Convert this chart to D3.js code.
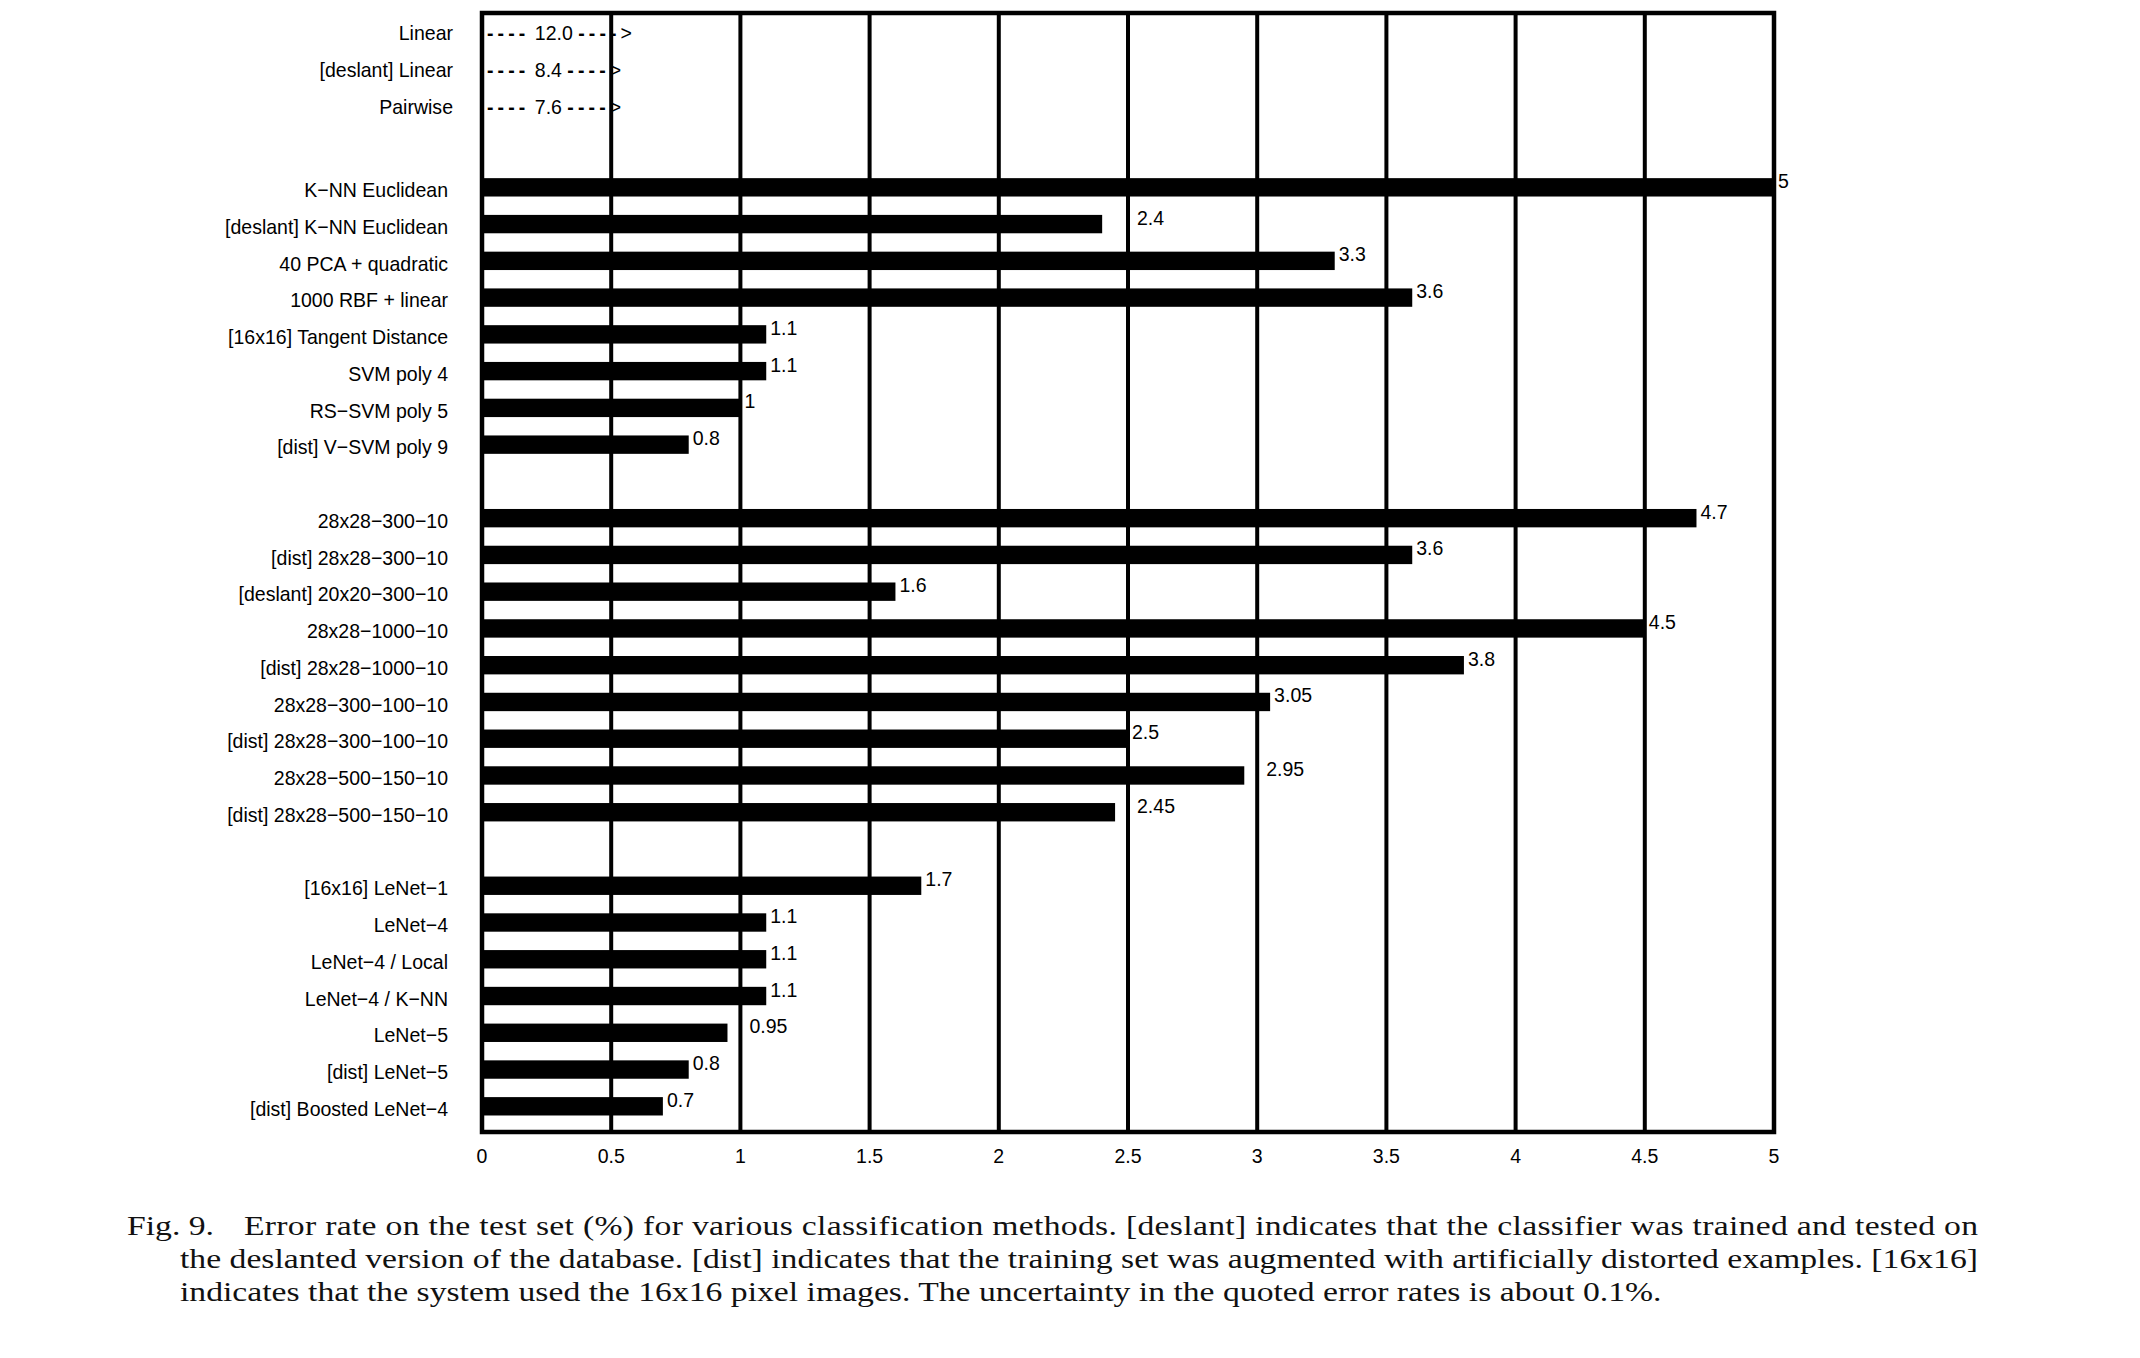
<!DOCTYPE html>
<html>
<head>
<meta charset="utf-8">
<script src="https://cdn.jsdelivr.net/npm/d3@7"></script>
<style>
  html, body { margin: 0; padding: 0; background: #fff; }
  svg { display: block; }
</style>
</head>
<body>
<script>
// ---------------- data ----------------
const offScaleLabels = ["Linear", "[deslant] Linear", "Pairwise"];
const offScaleValues = ["12.0", "8.4", "7.6"];

const group1Labels = ["K−NN Euclidean", "[deslant] K−NN Euclidean", "40 PCA + quadratic", "1000 RBF + linear",
  "[16x16] Tangent Distance", "SVM poly 4", "RS−SVM poly 5", "[dist] V−SVM poly 9"];
const group1Values = [5, 2.4, 3.3, 3.6, 1.1, 1.1, 1, 0.8];

const group2Labels = ["28x28−300−10", "[dist] 28x28−300−10", "[deslant] 20x20−300−10", "28x28−1000−10",
  "[dist] 28x28−1000−10", "28x28−300−100−10", "[dist] 28x28−300−100−10", "28x28−500−150−10",
  "[dist] 28x28−500−150−10"];
const group2Values = [4.7, 3.6, 1.6, 4.5, 3.8, 3.05, 2.5, 2.95, 2.45];

const group3Labels = ["[16x16] LeNet−1", "LeNet−4", "LeNet−4 / Local", "LeNet−4 / K−NN", "LeNet−5",
  "[dist] LeNet−5", "[dist] Boosted LeNet−4"];
const group3Values = [1.7, 1.1, 1.1, 1.1, 0.95, 0.8, 0.7];

const xTicks = [0, 0.5, 1, 1.5, 2, 2.5, 3, 3.5, 4, 4.5, 5];
const xTickLabels = ["0", "0.5", "1", "1.5", "2", "2.5", "3", "3.5", "4", "4.5", "5"];

const captionLines = [
  "Error rate on the test set (%) for various classification methods. [deslant] indicates that the classifier was trained and tested on",
  "the deslanted version of the database. [dist] indicates that the training set was augmented with artificially distorted examples. [16x16]",
  "indicates that the system used the 16x16 pixel images. The uncertainty in the quoted error rates is about 0.1%."
];
const captionLead = "Fig. 9.";

// ---------------- layout ----------------
const W = 2140, H = 1358;
const plot = { left: 482, right: 1774, top: 13, bottom: 1132 };
const SX = 0.93;      // horizontal condensing of the sans labels
const FS = 21;

const bars = [];
group1Labels.forEach((l, i) => bars.push({ key: "g1_" + i, label: l, value: group1Values[i] }));
group2Labels.forEach((l, i) => bars.push({ key: "g2_" + i, label: l, value: group2Values[i] }));
group3Labels.forEach((l, i) => bars.push({ key: "g3_" + i, label: l, value: group3Values[i] }));

const rowKeys = [
  ...offScaleLabels.map((l, i) => "o_" + i), "blank0",
  ...group1Labels.map((l, i) => "g1_" + i), "blank1",
  ...group2Labels.map((l, i) => "g2_" + i), "blank2",
  ...group3Labels.map((l, i) => "g3_" + i)
];

const x = d3.scaleLinear().domain([0, 5]).range([plot.left, plot.right]);
const y = d3.scalePoint().domain(rowKeys).range([40.3, 1106.3]);
const barH = y.step() * 0.5;

const svg = d3.select("body").append("svg")
  .attr("width", W).attr("height", H)
  .attr("viewBox", `0 0 ${W} ${H}`);
svg.append("rect").attr("width", W).attr("height", H).attr("fill", "#fff");

const sans = "'Liberation Sans', Arial, Helvetica, sans-serif";
const place = (px, py) => `translate(${px},${py}) scale(${SX},1)`;

// vertical grid lines
svg.append("g").selectAll("line")
  .data(xTicks.filter(t => t > 0 && t < 5))
  .join("line")
  .attr("x1", d => x(d)).attr("x2", d => x(d))
  .attr("y1", plot.top).attr("y2", plot.bottom)
  .attr("stroke", "#000").attr("stroke-width", 4);

// bars
svg.append("g").selectAll("rect")
  .data(bars)
  .join("rect")
  .attr("x", x(0))
  .attr("y", d => y(d.key) - barH / 2)
  .attr("width", d => x(d.value) - x(0))
  .attr("height", barH)
  .attr("fill", "#000");

// frame
svg.append("rect")
  .attr("x", plot.left).attr("y", plot.top)
  .attr("width", plot.right - plot.left).attr("height", plot.bottom - plot.top)
  .attr("fill", "none").attr("stroke", "#000").attr("stroke-width", 4.5);

// category labels
svg.append("g").selectAll("text")
  .data(bars)
  .join("text")
  .attr("transform", d => place(448, y(d.key) + 9.7))
  .attr("text-anchor", "end")
  .attr("font-family", sans).attr("font-size", FS)
  .text(d => d.label);

// off-scale rows
const offY = k => y(k) - 0.3;
svg.append("g").selectAll("text")
  .data(offScaleLabels)
  .join("text")
  .attr("transform", (d, i) => place(453, offY("o_" + i)))
  .attr("text-anchor", "end")
  .attr("font-family", sans).attr("font-size", FS)
  .text(d => d);

const arrows = svg.append("g").selectAll("text")
  .data(offScaleValues)
  .join("text")
  .attr("transform", (d, i) => place(487, offY("o_" + i)))
  .attr("font-family", sans).attr("font-size", FS);
arrows.append("tspan").attr("letter-spacing", 4.4).attr("font-weight", "bold").text("----");
arrows.append("tspan").text(d => " " + d + " ");
arrows.append("tspan").attr("letter-spacing", 4.4).attr("font-weight", "bold").text("----");
arrows.append("tspan").text(">");

// value labels
const grid = xTicks.map(t => x(t));
svg.append("g").selectAll("text")
  .data(bars)
  .join("text")
  .attr("font-family", sans).attr("font-size", FS)
  .text(d => String(d.value))
  .each(function (d) {
    const end = x(d.value);
    const w = this.getComputedTextLength() * SX;
    let lx = end + 4;
    grid.forEach(g => {
      if (g - 2 > end + 1 && g - 2 < end + 5 + w) lx = g + 9;
    });
    d3.select(this).attr("transform", place(lx, y(d.key) + 0.5));
  });

// x tick labels
svg.append("g").selectAll("text")
  .data(xTicks)
  .join("text")
  .attr("transform", d => place(x(d), 1162.5))
  .attr("text-anchor", "middle")
  .attr("font-family", sans).attr("font-size", FS)
  .text((d, i) => xTickLabels[i]);

// caption
const serif = "'Liberation Serif', 'Times New Roman', serif";
const cap = svg.append("g").attr("font-family", serif).attr("font-size", 27).attr("fill", "#111");
const lineBase = [1235, 1268, 1301];
const lineStart = [244, 180, 180];
const lineEnd = [1978, 1978, 1662];

const probe = cap.append("text").text(captionLines[2]);
const natural = probe.node().getComputedTextLength();
probe.remove();
const sx = (lineEnd[2] - lineStart[2]) / natural;

const capInner = cap.append("g").attr("transform", `scale(${sx},1)`);
capInner.append("text")
  .attr("x", 127 / sx).attr("y", lineBase[0])
  .text(captionLead);
captionLines.forEach((t, i) => {
  const el = capInner.append("text")
    .attr("x", lineStart[i] / sx).attr("y", lineBase[i])
    .text(t);
  if (i < 2) el.attr("textLength", (lineEnd[i] - lineStart[i]) / sx).attr("lengthAdjust", "spacing");
});
</script>
</body>
</html>
